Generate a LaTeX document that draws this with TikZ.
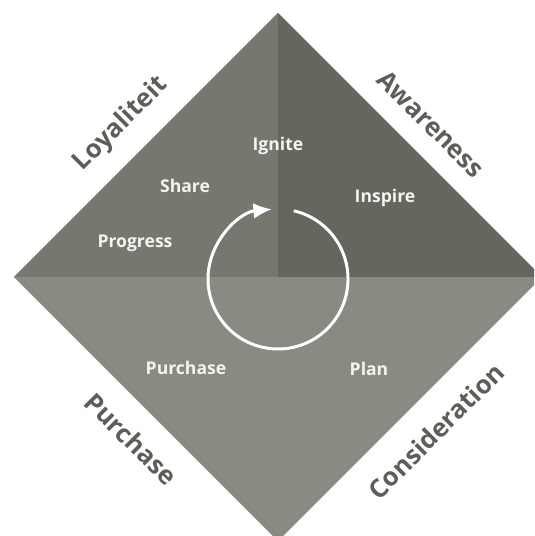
\documentclass[tikz,border=0pt]{standalone}
\usepackage{fontspec}
\setmainfont{Open Sans}
\usetikzlibrary{arrows.meta}
\tikzset{>={Latex[length=10.5pt, width=9pt]}}
\definecolor{cltl}{HTML}{77776F}
\definecolor{cltr}{HTML}{66665E}
\definecolor{clb}{HTML}{8A8A82}
\definecolor{clout}{HTML}{5E5E58}
\definecolor{clin}{HTML}{F4F4F0}
\tikzset{
  phase/.style={font=\fontsize{14.6}{16}\selectfont\bfseries, text=clout},
  stage/.style={font=\fontsize{10}{12}\selectfont\bfseries, text=clin}
}

\begin{document}
\begin{tikzpicture}[x=0.02cm, y=0.02cm]
    \clip(-278, -259) rectangle (256, 277);
    \fill[white](-278, -259) rectangle (256, 277);
    \fill[clb](-264, 0)--(264, 0)--(0, -264)--cycle;
    \fill[cltl](-264, 0)--(0, 264)--(0, 0)--cycle;
    \fill[cltr](0, 264)--(264, 0)--(0, 0)--cycle;
    \coordinate (hub) at (0, -2);
    \draw[white, line width=1.7pt, ->](hub) ++(77:70) arc[start angle=77, end angle=-265, radius=70];
    % stages inside the diamond
    \node[stage] (ignite) at (0, 131) {Ignite};
    \node[stage] (share) at (-93, 91) {Share};
    \node[stage] (inspire) at (107, 79) {Inspire};
    \node[stage] (progress) at (-143, 34) {Progress};
    \node[stage] (buy) at (-92, -91) {Purchase};
    \node[stage] (plan) at (91, -92) {Plan};
    % phases along the edges
    \node[phase, rotate=45] (loyal) at (-157, 153) {Loyaliteit};
    \node[phase, rotate=-45] (aware) at (153, 153) {Awareness};
    \node[phase, rotate=-45] (purchase) at (-147, -162) {Purchase};
    \node[phase, rotate=45] (consider) at (158, -154) {Consideration};
\end{tikzpicture}
\end{document}
